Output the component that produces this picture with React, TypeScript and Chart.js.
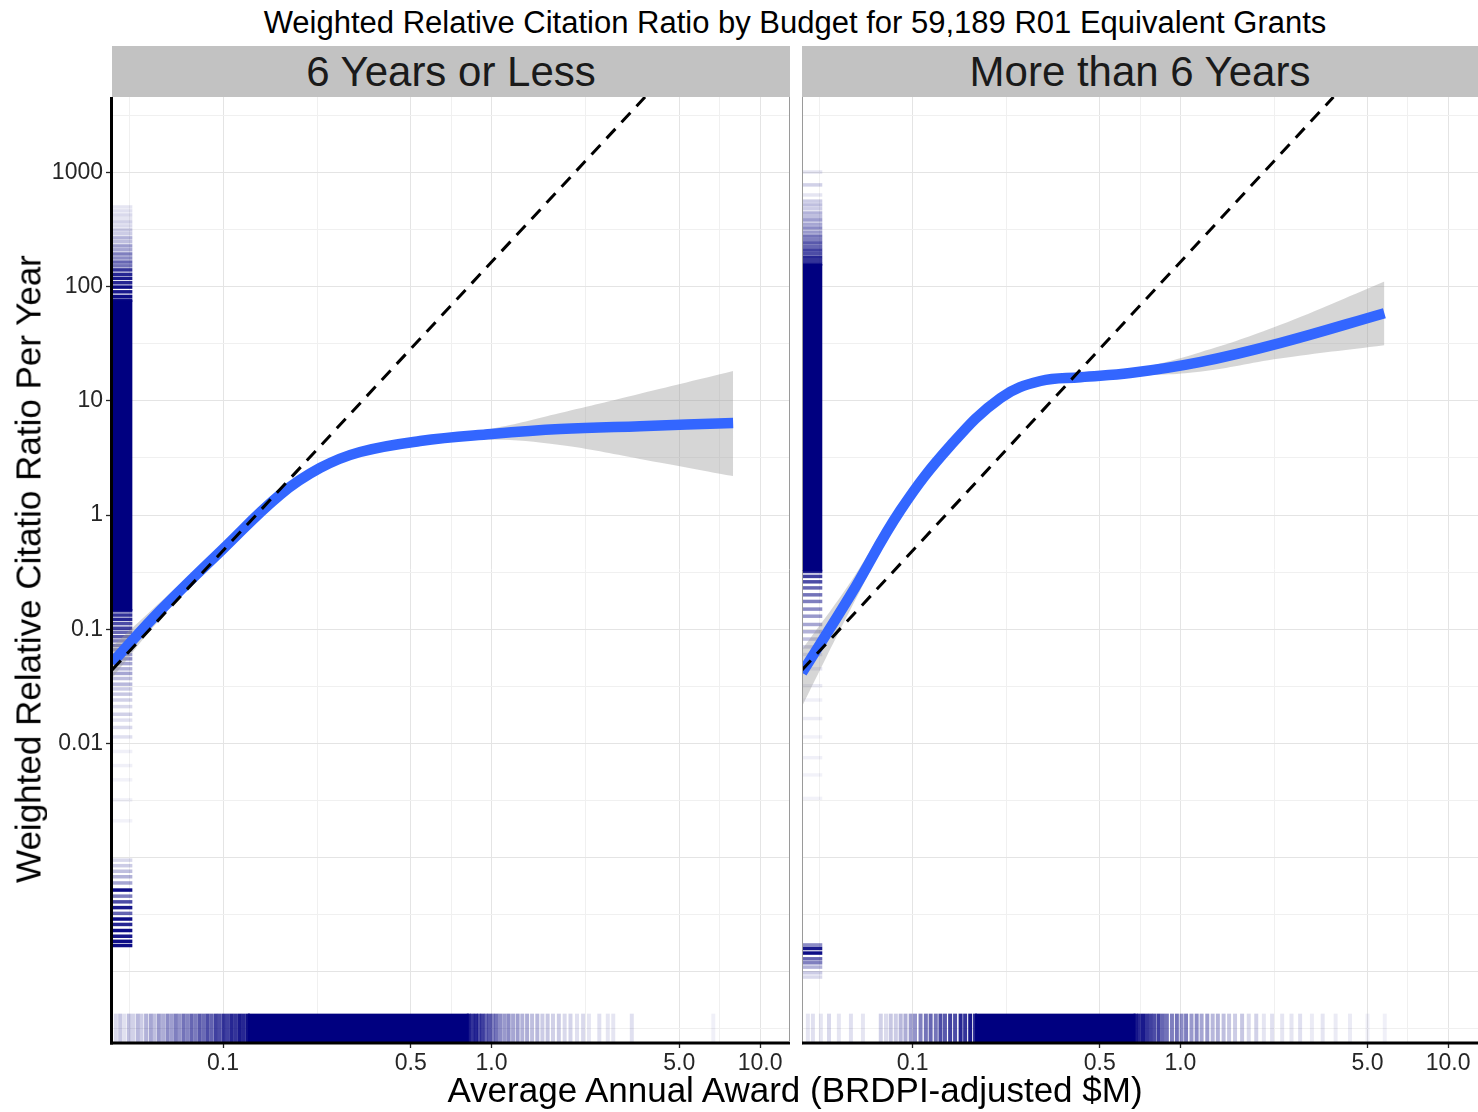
import React, { useEffect, useRef } from 'react';
import { Chart, registerables } from 'chart.js';

Chart.register(...registerables);

const FONT = '"Liberation Sans", Arial, Helvetica, sans-serif';

// ---------- text ----------
const TITLE = 'Weighted Relative Citation Ratio by Budget for 59,189 R01 Equivalent Grants';
const PANEL_TITLES = ['6 Years or Less', 'More than 6 Years'];
const X_TITLE = 'Average Annual Award (BRDPI-adjusted $M)';
const Y_TITLE = 'Weighted Relative Citatio Ratio Per Year';

// ---------- axes ----------
const X_RANGE = [0.0386, 12.93];
const Y_RANGE = [2.43e-5, 4571];

const xTickValues = [0.0447, 0.1, 0.224, 0.5, 0.707, 1, 2.24, 5, 7.07, 10];
const xTickLabels = ['', '0.1', '', '0.5', '', '1.0', '', '5.0', '', '10.0'];
const xTickMajor = [false, true, false, true, false, true, false, true, false, true];

const yTickValues = [3.16e-5, 1e-4, 3.16e-4, 1e-3, 3.16e-3, 0.01, 0.0316, 0.1, 0.316, 1, 3.16, 10, 31.6, 100, 316, 1000, 3162];
const yTickLabels = ['', '', '', '', '', '0.01', '', '0.1', '', '1', '', '10', '', '100', '', '1000', ''];
const yTickMajor = [false, true, false, true, false, true, false, true, false, true, false, true, false, true, false, true, false];

// ---------- reference (dashed) line ----------
const refX = [0.0386, 3.73];
const refY = [0.044, 4571];

// ---------- smooth fit: 6 Years or Less ----------
const fitXShort = [0.0386, 0.0583, 0.1, 0.163, 0.23, 0.324, 0.542, 1.0, 1.8, 3.57, 7.94];
const fitYShort = [0.0507, 0.145, 0.504, 1.5, 2.58, 3.56, 4.44, 5.11, 5.65, 6.0, 6.38];
const fitLoShort = [0.037, 0.122, 0.455, 1.37, 2.38, 3.3, 4.12, 4.55, 4.1, 3.1, 2.19];
const fitHiShort = [0.07, 0.172, 0.558, 1.64, 2.8, 3.84, 4.8, 5.7, 7.8, 11.5, 18.2];

// ---------- smooth fit: More than 6 Years ----------
const fitXLong = [0.0386, 0.0587, 0.09, 0.139, 0.213, 0.3, 0.423, 0.649, 1.18, 2.35, 5.78];
const fitYLong = [0.0415, 0.2, 1.1, 4.1, 10.6, 14.9, 16.1, 17.5, 21.8, 32, 58.5];
const fitLoLong = [0.021, 0.15, 0.95, 3.7, 9.8, 14.0, 15.2, 16.4, 18.0, 23.5, 30.7];
const fitHiLong = [0.066, 0.26, 1.28, 4.55, 11.5, 15.9, 17.1, 18.7, 26.5, 46, 111];

// ---------- rugs: [value, opacity] + solid dense band ----------
const rugXShort: [number, number][] = [
  [0.0399, 0.15], [0.0414, 0.22], [0.0429, 0.12], [0.0446, 0.25], [0.0462, 0.18], [0.0481, 0.28], [0.0497, 0.2],
  [0.0517, 0.3], [0.0538, 0.35], [0.0556, 0.25], [0.0577, 0.4], [0.0598, 0.32], [0.0621, 0.45], [0.0643, 0.38],
  [0.0666, 0.5], [0.0688, 0.42], [0.0713, 0.55], [0.0738, 0.48], [0.0764, 0.6], [0.0791, 0.52], [0.0819, 0.65],
  [0.0848, 0.58], [0.0877, 0.7], [0.0908, 0.62], [0.0941, 0.75], [0.0973, 0.7], [0.1008, 0.8], [0.1043, 0.75],
  [0.1079, 0.85], [0.1117, 0.8], [0.1156, 0.9], [0.1196, 0.85], [0.1238, 0.95],
  [0.823, 0.9], [0.848, 0.8], [0.874, 0.85], [0.899, 0.7], [0.925, 0.75], [0.953, 0.6], [0.982, 0.65],
  [1.012, 0.5], [1.043, 0.55], [1.079, 0.45], [1.118, 0.4], [1.158, 0.45], [1.203, 0.35], [1.251, 0.38],
  [1.302, 0.3], [1.357, 0.32], [1.416, 0.25], [1.481, 0.28], [1.547, 0.2], [1.618, 0.22], [1.694, 0.18],
  [1.781, 0.2], [1.872, 0.15], [1.968, 0.17], [2.081, 0.12], [2.193, 0.15], [2.306, 0.1], [2.52, 0.12],
  [2.71, 0.1], [2.84, 0.1], [3.33, 0.12], [6.7, 0.06],
];
const rugXShortBand = [0.1238, 0.823];

const rugYShort: [number, number][] = [
  [498, 0.1], [460, 0.12], [424, 0.15], [395, 0.1], [368, 0.18], [340, 0.15], [313, 0.22], [290, 0.2],
  [267, 0.3], [247, 0.25], [227, 0.38], [210, 0.35], [193, 0.5], [178, 0.45], [164, 0.6], [152, 0.55],
  [140, 0.8], [128, 0.85], [118, 0.9], [108, 0.85], [99, 0.95], [90, 0.9], [82, 0.95], [76, 0.95],
  [0.145, 0.9], [0.133, 0.8], [0.122, 0.85], [0.112, 0.7], [0.102, 0.75], [0.094, 0.6], [0.086, 0.65],
  [0.079, 0.5], [0.072, 0.55], [0.066, 0.45], [0.06, 0.4], [0.055, 0.45], [0.05, 0.35], [0.045, 0.3],
  [0.041, 0.35], [0.037, 0.25], [0.033, 0.28], [0.03, 0.2], [0.027, 0.22], [0.024, 0.18], [0.021, 0.15],
  [0.018, 0.18], [0.016, 0.12], [0.0138, 0.15], [0.0114, 0.12], [0.0085, 0.06], [0.0064, 0.06],
  [0.0048, 0.05], [0.0032, 0.06], [0.0021, 0.05],
  [9.5e-4, 0.15], [8.5e-4, 0.2], [7.6e-4, 0.25], [6.8e-4, 0.3], [6.0e-4, 0.35], [5.2e-4, 0.95],
  [4.6e-4, 0.5], [4.1e-4, 0.7], [3.65e-4, 0.9], [3.25e-4, 0.6], [2.9e-4, 0.95], [2.6e-4, 0.85],
  [2.3e-4, 0.95], [2.05e-4, 0.9], [1.85e-4, 0.95], [1.7e-4, 0.95],
];
const rugYShortBand = [0.145, 76];

const rugXLong: [number, number][] = [
  [0.0406, 0.1], [0.0424, 0.12], [0.0454, 0.1], [0.0487, 0.15], [0.053, 0.1], [0.0588, 0.12], [0.0652, 0.1],
  [0.076, 0.18], [0.0795, 0.14], [0.0828, 0.22], [0.0865, 0.2], [0.0902, 0.28], [0.094, 0.32], [0.0983, 0.38],
  [0.102, 0.42], [0.107, 0.5], [0.112, 0.55], [0.1167, 0.6], [0.122, 0.55], [0.127, 0.7], [0.132, 0.65],
  [0.138, 0.75], [0.144, 0.7], [0.151, 0.85], [0.157, 0.8], [0.164, 0.9], [0.171, 0.85],
  [0.68, 0.9], [0.7, 0.85], [0.725, 0.9], [0.75, 0.8], [0.775, 0.75], [0.8, 0.7], [0.83, 0.75], [0.86, 0.6],
  [0.89, 0.55], [0.93, 0.5], [0.97, 0.55], [1.01, 0.45], [1.05, 0.5], [1.1, 0.4], [1.15, 0.45], [1.2, 0.35],
  [1.26, 0.38], [1.32, 0.28], [1.38, 0.3], [1.45, 0.25], [1.52, 0.22], [1.6, 0.2], [1.7, 0.22], [1.8, 0.15],
  [1.92, 0.18], [2.05, 0.1], [2.2, 0.12], [2.4, 0.1], [2.6, 0.1], [2.8, 0.12], [3.1, 0.08], [3.4, 0.1],
  [3.8, 0.08], [4.3, 0.08], [5.0, 0.06], [5.8, 0.06],
];
const rugXLongBand = [0.171, 0.68];

const rugYLong: [number, number][] = [
  [1007, 0.1], [777, 0.18], [634, 0.1], [560, 0.2], [519, 0.25], [480, 0.2], [441, 0.3], [410, 0.25],
  [383, 0.38], [352, 0.35], [326, 0.45], [300, 0.4], [277, 0.55], [258, 0.5], [241, 0.65], [224, 0.6],
  [209, 0.75], [195, 0.7], [181, 0.85], [169, 0.8], [158, 0.9],
  [0.32, 0.85], [0.29, 0.75], [0.26, 0.7], [0.23, 0.6], [0.2, 0.55], [0.175, 0.5], [0.15, 0.45], [0.13, 0.4],
  [0.11, 0.35], [0.095, 0.3], [0.082, 0.25], [0.07, 0.2], [0.06, 0.15], [0.045, 0.1], [0.032, 0.08],
  [0.024, 0.06], [0.0165, 0.07], [0.0114, 0.05], [0.0075, 0.06], [0.0053, 0.05], [0.0033, 0.05],
  [1.72e-4, 0.45], [1.6e-4, 0.9], [1.46e-4, 0.95], [1.3e-4, 0.6], [1.2e-4, 0.5], [1.1e-4, 0.3],
  [9.8e-5, 0.2], [9.0e-5, 0.15],
];
const rugYLongBand = [0.32, 158];

// ---------- layout ----------
const PAGE_W = 1478;
const PAGE_H = 1112;
const PANEL_TOP = 97;
const CANVAS_H = PAGE_H - PANEL_TOP;
const X_AXIS_H = 70;
const Y_AXIS_W = 112;
const TICK_COLOR = '#262626';
const RUG_COLOR = (a: number) => `rgba(0,0,128,${a})`;

const rugPlugin = {
  id: 'rug',
  beforeDatasetsDraw(chart: any, _args: any, opts: any) {
    const { ctx, chartArea: a, scales } = chart;
    const xs = scales.x;
    const ys = scales.y;
    const xLen = a.height * 0.03;
    const yLen = a.width * 0.03;
    ctx.save();
    ctx.beginPath();
    ctx.rect(a.left, a.top, a.width, a.height);
    ctx.clip();
    ctx.lineWidth = 4;
    for (const [v, al] of opts.xLines) {
      const p = xs.getPixelForValue(v);
      ctx.strokeStyle = RUG_COLOR(al);
      ctx.beginPath();
      ctx.moveTo(p, a.bottom - xLen);
      ctx.lineTo(p, a.bottom);
      ctx.stroke();
    }
    ctx.lineWidth = 3.5;
    for (const [v, al] of opts.yLines) {
      const p = ys.getPixelForValue(v);
      ctx.strokeStyle = RUG_COLOR(al);
      ctx.beginPath();
      ctx.moveTo(a.left, p);
      ctx.lineTo(a.left + yLen, p);
      ctx.stroke();
    }
    ctx.fillStyle = RUG_COLOR(1);
    const bx0 = xs.getPixelForValue(opts.xBand[0]);
    const bx1 = xs.getPixelForValue(opts.xBand[1]);
    ctx.fillRect(bx0, a.bottom - xLen, bx1 - bx0, xLen);
    const by0 = ys.getPixelForValue(opts.yBand[1]);
    const by1 = ys.getPixelForValue(opts.yBand[0]);
    ctx.fillRect(a.left, by0, yLen, by1 - by0);
    ctx.restore();
  },
};

const framePlugin = {
  id: 'frame',
  afterDatasetsDraw(chart: any, _args: any, opts: any) {
    const { ctx, chartArea: a } = chart;
    ctx.save();
    for (const s of opts.sides) {
      ctx.strokeStyle = s.color;
      ctx.lineWidth = s.width;
      ctx.beginPath();
      if (s.side === 'left') {
        const x = a.left - s.width / 2 + 1;
        ctx.moveTo(x, a.top);
        ctx.lineTo(x, a.bottom + 2.5);
      } else if (s.side === 'right') {
        const x = a.right - s.width / 2;
        ctx.moveTo(x, a.top);
        ctx.lineTo(x, a.bottom);
      } else if (s.side === 'bottom') {
        const y = a.bottom + s.width / 2 - 0.5;
        ctx.moveTo(a.left - 2, y);
        ctx.lineTo(a.right, y);
      }
      ctx.stroke();
    }
    ctx.restore();
  },
};

const pts = (xs: number[], ys: number[]) => xs.map((x, i) => ({ x, y: ys[i] }));

const findIdx = (arr: number[], v: number) => arr.findIndex((t) => Math.abs(t - v) / t < 1e-6);

const zeroPad = (s: any) => {
  s.paddingLeft = 0;
  s.paddingRight = 0;
  s.paddingTop = 0;
  s.paddingBottom = 0;
};

type PanelProps = {
  left: number;
  width: number;
  showY: boolean;
  fitX: number[];
  fitY: number[];
  fitLo: number[];
  fitHi: number[];
  rugX: [number, number][];
  rugXBand: number[];
  rugY: [number, number][];
  rugYBand: number[];
  sides: { side: string; color: string; width: number }[];
};

function Panel(p: PanelProps) {
  const ref = useRef<HTMLCanvasElement>(null);
  useEffect(() => {
    const chart = new Chart(ref.current as HTMLCanvasElement, {
      type: 'line',
      data: {
        datasets: [
          {
            data: pts(refX, refY),
            borderColor: '#000000',
            borderWidth: 3,
            borderDash: [13, 9],
            pointRadius: 0,
            fill: false,
            clip: 0,
          },
          {
            data: pts(p.fitX, p.fitY),
            borderColor: '#3366FF',
            borderWidth: 10.5,
            pointRadius: 0,
            fill: false,
            tension: 0.4,
            clip: 0,
          },
          {
            data: pts(p.fitX, p.fitLo),
            borderColor: 'transparent',
            borderWidth: 1,
            pointRadius: 0,
            fill: false,
            tension: 0.4,
            clip: 0,
          },
          {
            data: pts(p.fitX, p.fitHi),
            borderColor: 'transparent',
            borderWidth: 1,
            pointRadius: 0,
            fill: 2,
            backgroundColor: 'rgba(153,153,153,0.4)',
            tension: 0.4,
            clip: 0,
          },
        ],
      } as any,
      options: {
        animation: false,
        responsive: false,
        maintainAspectRatio: false,
        events: [],
        layout: { padding: 0 },
        plugins: {
          legend: { display: false },
          tooltip: { enabled: false },
          rug: { xLines: p.rugX, xBand: p.rugXBand, yLines: p.rugY, yBand: p.rugYBand },
          frame: { sides: p.sides },
        } as any,
        scales: {
          x: {
            type: 'logarithmic',
            position: 'bottom',
            min: X_RANGE[0],
            max: X_RANGE[1],
            bounds: 'data',
            afterBuildTicks: (s: any) => {
              s.ticks = xTickValues.map((v) => ({ value: v }));
            },
            afterFit: (s: any) => {
              s.height = X_AXIS_H;
              zeroPad(s);
            },
            ticks: {
              autoSkip: false,
              maxRotation: 0,
              minRotation: 0,
              padding: 2,
              color: TICK_COLOR,
              font: { family: FONT, size: 23 },
              callback: (v: any) => {
                const i = findIdx(xTickValues, Number(v));
                return i >= 0 ? xTickLabels[i] : '';
              },
            },
            grid: {
              color: (c: any) => {
                const i = c.tick ? findIdx(xTickValues, c.tick.value) : -1;
                return i >= 0 && xTickMajor[i] ? '#E4E4E4' : '#F0F0F0';
              },
              lineWidth: 1,
              drawTicks: true,
              tickLength: 6,
              tickWidth: 1.3,
              tickColor: (c: any) => {
                const i = c.tick ? findIdx(xTickValues, c.tick.value) : -1;
                return i >= 0 && xTickLabels[i] ? TICK_COLOR : 'rgba(0,0,0,0)';
              },
            },
            border: { display: false },
          },
          y: {
            type: 'logarithmic',
            position: 'left',
            min: Y_RANGE[0],
            max: Y_RANGE[1],
            bounds: 'data',
            afterBuildTicks: (s: any) => {
              s.ticks = yTickValues.map((v) => ({ value: v }));
            },
            afterFit: (s: any) => {
              s.width = p.showY ? Y_AXIS_W : 0;
              zeroPad(s);
            },
            ticks: {
              display: p.showY,
              autoSkip: false,
              padding: 3,
              color: TICK_COLOR,
              font: { family: FONT, size: 23 },
              callback: (v: any) => {
                const i = findIdx(yTickValues, Number(v));
                return i >= 0 ? yTickLabels[i] : '';
              },
            },
            grid: {
              color: (c: any) => {
                const i = c.tick ? findIdx(yTickValues, c.tick.value) : -1;
                return i >= 0 && yTickMajor[i] ? '#E4E4E4' : '#F0F0F0';
              },
              lineWidth: 1,
              drawTicks: p.showY,
              tickLength: 6,
              tickWidth: 1.3,
              tickColor: (c: any) => {
                const i = c.tick ? findIdx(yTickValues, c.tick.value) : -1;
                return i >= 0 && yTickLabels[i] ? TICK_COLOR : 'rgba(0,0,0,0)';
              },
            },
            border: { display: false },
          },
        },
      } as any,
      plugins: [rugPlugin, framePlugin],
    });
    return () => chart.destroy();
  }, []);
  return (
    <canvas
      ref={ref}
      width={p.width}
      height={CANVAS_H}
      style={{ position: 'absolute', left: p.left, top: PANEL_TOP, width: p.width, height: CANVAS_H }}
    />
  );
}

const stripStyle = (left: number, width: number): React.CSSProperties => ({
  position: 'absolute',
  left,
  top: 46,
  width,
  height: 51,
  background: '#C2C2C2',
  color: '#1A1A1A',
  fontFamily: FONT,
  fontSize: 42,
  lineHeight: '51px',
  textAlign: 'center',
  whiteSpace: 'nowrap',
});

export default function App() {
  return (
    <div
      style={{
        position: 'absolute',
        left: 0,
        top: 0,
        width: PAGE_W,
        height: PAGE_H,
        background: '#FFFFFF',
        overflow: 'hidden',
        fontFamily: FONT,
      }}
    >
      <div
        style={{
          position: 'absolute',
          left: 112,
          top: 7,
          width: 1366,
          textAlign: 'center',
          fontSize: 31,
          lineHeight: '31px',
          color: '#000',
          whiteSpace: 'nowrap',
        }}
      >
        {TITLE}
      </div>
      <div style={stripStyle(112, 678)}>{PANEL_TITLES[0]}</div>
      <div style={stripStyle(802, 676)}>{PANEL_TITLES[1]}</div>
      <Panel
        left={0}
        width={790}
        showY={true}
        fitX={fitXShort}
        fitY={fitYShort}
        fitLo={fitLoShort}
        fitHi={fitHiShort}
        rugX={rugXShort}
        rugXBand={rugXShortBand}
        rugY={rugYShort}
        rugYBand={rugYShortBand}
        sides={[
          { side: 'left', color: '#000000', width: 3 },
          { side: 'bottom', color: '#000000', width: 3 },
          { side: 'right', color: '#9A9A9A', width: 1 },
        ]}
      />
      <Panel
        left={802}
        width={676}
        showY={false}
        fitX={fitXLong}
        fitY={fitYLong}
        fitLo={fitLoLong}
        fitHi={fitHiLong}
        rugX={rugXLong}
        rugXBand={rugXLongBand}
        rugY={rugYLong}
        rugYBand={rugYLongBand}
        sides={[
          { side: 'left', color: '#9A9A9A', width: 1 },
          { side: 'bottom', color: '#000000', width: 3 },
        ]}
      />
      <div
        style={{
          position: 'absolute',
          left: 28,
          top: 569,
          transform: 'translate(-50%, -50%) rotate(-90deg)',
          fontSize: 35,
          lineHeight: '35px',
          whiteSpace: 'nowrap',
          color: '#000',
        }}
      >
        {Y_TITLE}
      </div>
      <div
        style={{
          position: 'absolute',
          left: 112,
          top: 1072,
          width: 1366,
          textAlign: 'center',
          fontSize: 35,
          lineHeight: '35px',
          whiteSpace: 'nowrap',
          color: '#000',
        }}
      >
        {X_TITLE}
      </div>
    </div>
  );
}
